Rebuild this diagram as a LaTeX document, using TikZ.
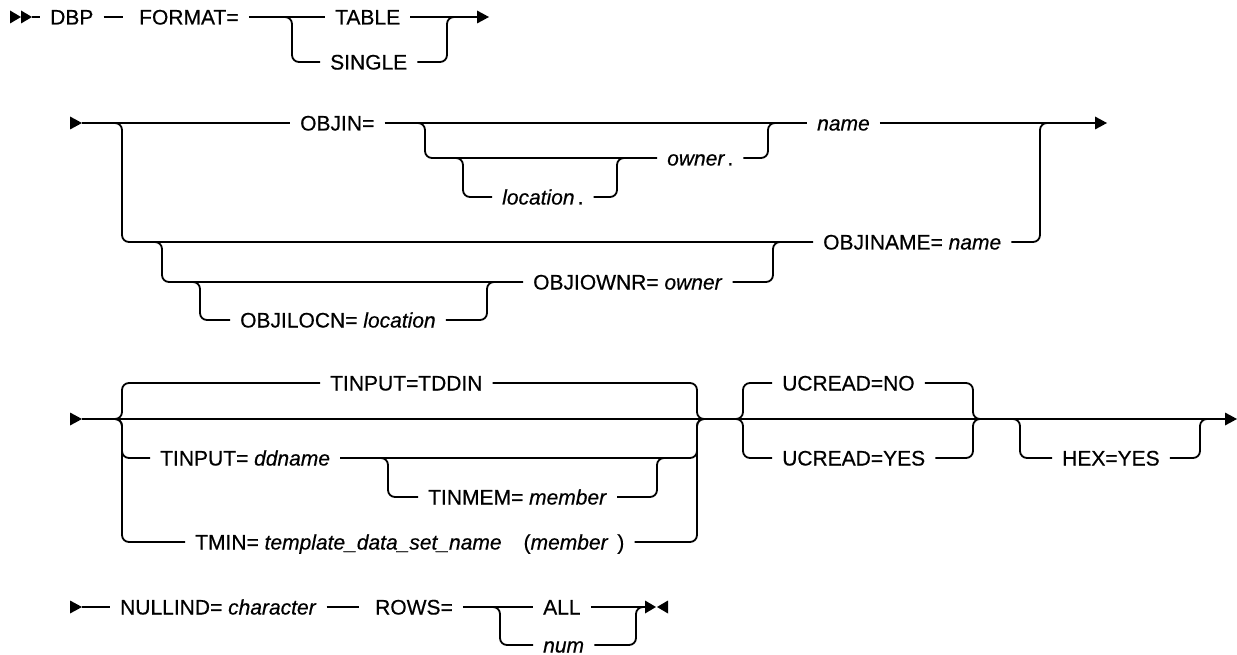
\documentclass[tikz,border=0pt]{standalone}
\usepackage{fontspec}
\setmainfont{Liberation Sans}[FakeBold=0.5]
\begin{document}
\begin{tikzpicture}[x=1pt,y=-1pt,
  rail/.style={line width=1.8pt, rounded corners=7pt},
  kw/.style={inner xsep=10pt, inner ysep=0pt, text height=15pt, text depth=0pt, anchor=west, font=\fontsize{21}{25}\selectfont},
  rtri/.pic={\fill (0,0) -- (-12,-6.5) -- (-12,6.5) -- cycle;},
  rtris/.pic={\fill (0,0) -- (-11,-6.5) -- (-11,6.5) -- cycle;},
  ltri/.pic={\fill (0,0) -- (11,-6.5) -- (11,6.5) -- cycle;}]
\useasboundingbox (0,0) rectangle (1237,655);
\newcommand{\tsp}{\hspace{6pt}}
% ---------- row 1 ----------
\pic at (21,17) {rtris};
\pic at (32,17) {rtris};
\node[kw] (dbp) at (40,17) {DBP};
\node[kw] (fmt) at (123,17) {\hspace{6pt}FORMAT=};
\node[kw] (tbl) at (325,17) {TABLE};
\node[kw] (sgl) at (320,62) {SINGLE};
\coordinate (end1) at (477,17);
\draw[rail] (32,17) -- (dbp.west);
\draw[rail] (dbp.east) -- (fmt.west);
\draw[rail] (fmt.east) -- (tbl.west);
\draw[rail] (tbl.east) -- (end1);
\pic at (489,17) {rtri};
\draw[rail] (280,17) -- (292,17) -- (292,62) -- (sgl.west);
\draw[rail] (sgl.east) -- (447,62) -- (447,17) -- (460,17);
% ---------- row 2 ----------
\pic at (82,123) {rtri};
\node[kw] (objin) at (290,123) {OBJIN=};
\node[kw] (name1) at (807,123) {\itshape name};
\node[kw] (own) at (657,158) {\itshape owner\hspace{3pt}\upshape .};
\node[kw] (loc) at (492,197) {\itshape location\hspace{3pt}\upshape .};
\node[kw] (oname) at (813,242) {OBJINAME= \textit{name}};
\node[kw] (oown) at (523,282) {OBJIOWNR= \textit{owner}\tsp};
\node[kw] (oloc) at (230,320) {OBJILOCN= \textit{location}\tsp};
\coordinate (end2) at (1095,123);
\draw[rail] (82,123) -- (objin.west);
\draw[rail] (objin.east) -- (name1.west);
\draw[rail] (name1.east) -- (end2);
\pic at (1107,123) {rtri};
\draw[rail] (415,123) -- (425,123) -- (425,158) -- (own.west);
\draw[rail] (own.east) -- (768,158) -- (768,123) -- (780,123);
\draw[rail] (453,158) -- (463,158) -- (463,197) -- (loc.west);
\draw[rail] (loc.east) -- (617,197) -- (617,158) -- (628,158);
\draw[rail] (112,123) -- (122,123) -- (122,242) -- (oname.west);
\draw[rail] (oname.east) -- (1040,242) -- (1040,123) -- (1052,123);
\draw[rail] (152,242) -- (162,242) -- (162,282) -- (oown.west);
\draw[rail] (oown.east) -- (773,282) -- (773,242) -- (785,242);
\draw[rail] (190,282) -- (200,282) -- (200,320) -- (oloc.west);
\draw[rail] (oloc.east) -- (487,320) -- (487,282) -- (499,282);
% ---------- row 3 ----------
\pic at (82,419) {rtri};
\coordinate (end3) at (1225,419);
\draw[rail] (82,419) -- (end3);
\pic at (1237,419) {rtri};
\node[kw] (tddin) at (320,383) {TINPUT=TDDIN\tsp};
\node[kw] (tinp) at (150,458) {TINPUT= \textit{ddname}\tsp};
\node[kw] (tinmem) at (418,497) {TINMEM= \textit{member}\tsp};
\node[kw] (tmin) at (185,542) {TMIN= \textit{template\_data\_set\_name}\hspace{22pt}(\textit{member}\hspace{9pt})};
\node[kw] (ucno) at (772,383) {UCREAD=NO\tsp};
\node[kw] (ucyes) at (772,458) {UCREAD=YES\tsp};
\node[kw] (hex) at (1052,458) {HEX=YES};
\draw[rail] (100,419) -- (122,419) -- (122,383) -- (tddin.west);
\draw[rail] (tddin.east) -- (697,383) -- (697,419) -- (710,419);
\draw[rail] (100,419) -- (122,419) -- (122,458) -- (tinp.west);
\draw[rail] (tinp.east) -- (697,458) -- (697,419) -- (710,419);
\draw[rail] (378,458) -- (388,458) -- (388,497) -- (tinmem.west);
\draw[rail] (tinmem.east) -- (657,497) -- (657,458) -- (669,458);
\draw[rail] (100,419) -- (122,419) -- (122,542) -- (tmin.west);
\draw[rail] (tmin.east) -- (697,542) -- (697,419) -- (710,419);
\draw[rail] (730,419) -- (743,419) -- (743,383) -- (ucno.west);
\draw[rail] (ucno.east) -- (973,383) -- (973,419) -- (985,419);
\draw[rail] (730,419) -- (743,419) -- (743,458) -- (ucyes.west);
\draw[rail] (ucyes.east) -- (973,458) -- (973,419) -- (985,419);
\draw[rail] (1010,419) -- (1020,419) -- (1020,458) -- (hex.west);
\draw[rail] (hex.east) -- (1200,458) -- (1200,419) -- (1212,419);
% ---------- row 4 ----------
\pic at (82,607) {rtri};
\node[kw] (nullind) at (110,607) {NULLIND= \textit{character}\tsp};
\node[kw] (rows) at (359,607) {\hspace{6pt}ROWS=};
\node[kw] (all) at (533,607) {ALL};
\node[kw] (num) at (533,645) {\itshape num};
\coordinate (end4) at (645,607);
\draw[rail] (82,607) -- (nullind.west);
\draw[rail] (nullind.east) -- (rows.west);
\draw[rail] (rows.east) -- (all.west);
\draw[rail] (all.east) -- (end4);
\draw[rail] (490,607) -- (500,607) -- (500,645) -- (num.west);
\draw[rail] (num.east) -- (636,645) -- (636,607) -- (645,607);
\pic at (656,607) {rtris};
\pic at (657,607) {ltri};
\end{tikzpicture}
\end{document}
